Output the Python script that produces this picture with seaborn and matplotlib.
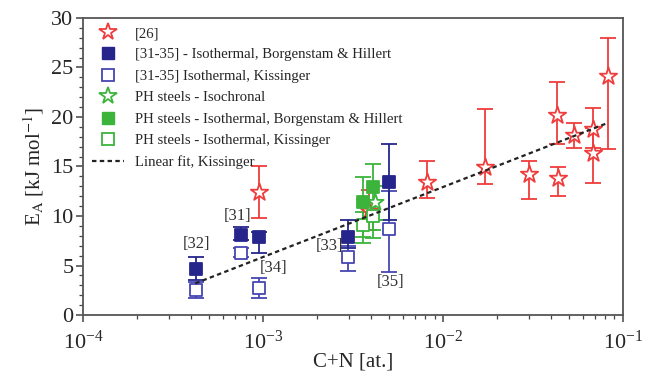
import numpy as np
import pandas as pd
import matplotlib
matplotlib.use('Agg')
import matplotlib.pyplot as plt
from matplotlib.lines import Line2D
from matplotlib.ticker import MultipleLocator, LogLocator, NullFormatter
import seaborn as sns

# [26]
ref26_x = [0.00095, 0.0039, 0.0082, 0.0171, 0.030, 0.0435, 0.043, 0.0535, 0.068, 0.068, 0.0826]
ref26_y = [12.4, 10.5, 13.4, 14.9, 14.2, 13.8, 20.2, 18.2, 18.8, 16.4, 24.1]
ref26_lo = [9.8, 8.6, 11.8, 13.2, 11.7, 12.0, 17.3, 16.9, 16.9, 13.3, 16.8]
ref26_hi = [15.0, 12.6, 15.6, 20.8, 15.6, 14.9, 23.5, 19.4, 20.9, 18.9, 28.0]

# [31-35] isothermal, Borgenstam & Hillert
bh_x = [0.000425, 0.000755, 0.00095, 0.00297, 0.00501]
bh_y = [4.7, 8.1, 7.9, 7.9, 13.4]
bh_lo = [3.5, 7.6, 6.3, 6.8, 9.6]
bh_hi = [5.9, 8.9, 8.4, 9.6, 17.3]

# [31-35] isothermal, Kissinger
ks_x = [0.000425, 0.000755, 0.00095, 0.00297, 0.00501]
ks_y = [2.5, 6.3, 2.7, 5.9, 8.7]
ks_lo = [1.7, 5.9, 1.7, 4.5, 4.3]
ks_hi = [3.3, 6.8, 3.7, 7.0, 12.5]

# PH steels
ph_iso_x = [0.0042]
ph_iso_y = [11.4]
ph_iso_lo = [9.6]
ph_iso_hi = [13.0]

ph_bh_x = [0.0036, 0.0041]
ph_bh_y = [11.4, 12.9]
ph_bh_lo = [7.3, 7.8]
ph_bh_hi = [13.9, 15.3]

ph_ks_x = [0.0036, 0.0041]
ph_ks_y = [9.1, 10.0]
ph_ks_lo = [7.9, 8.6]
ph_ks_hi = [10.4, 11.4]

# linear fit (Kissinger), end points
fit_x = [0.00042, 0.08]
fit_y = [3.2, 19.3]

ref_labels = ['[32]', '[31]', '[34]', '[33]', '[35]']
ref_label_x = [0.000425, 0.00072, 0.00115, 0.00235, 0.0051]
ref_label_y = [7.2, 10.0, 4.8, 7.0, 3.3]

sns.set_theme(style='ticks')
plt.rcParams['font.family'] = ['Liberation Serif', 'DejaVu Serif']
plt.rcParams['mathtext.fontset'] = 'stix'

RED = '#f03c3c'
NAVY = '#25258c'
BLUE = '#4646b4'
GREEN = '#3cb43c'

fig = plt.figure(figsize=(6.5, 3.81), dpi=100)
ax = fig.add_axes([0.128, 0.173, 0.830, 0.780])


def draw(x, y, lo, hi, color, marker, filled, size):
    err = [np.array(y) - np.array(lo), np.array(hi) - np.array(y)]
    ax.errorbar(x, y, yerr=err, fmt='none', ecolor=color, elinewidth=1.3,
                capsize=6, capthick=1.3, zorder=2)
    df = pd.DataFrame({'x': x, 'y': y})
    sns.scatterplot(data=df, x='x', y='y', ax=ax, marker=marker, s=size,
                    facecolor=color if filled else 'white', edgecolor=color,
                    linewidth=1.3, zorder=3, legend=False)


sns.lineplot(x=fit_x, y=fit_y, ax=ax, color='#222222', linestyle=(0, (2, 1.5)),
             linewidth=1.6, zorder=4)
draw(ref26_x, ref26_y, ref26_lo, ref26_hi, RED, '*', False, 170)
draw(ks_x, ks_y, ks_lo, ks_hi, BLUE, 's', False, 80)
draw(bh_x, bh_y, bh_lo, bh_hi, NAVY, 's', True, 80)
draw(ph_ks_x, ph_ks_y, ph_ks_lo, ph_ks_hi, GREEN, 's', False, 80)
draw(ph_iso_x, ph_iso_y, ph_iso_lo, ph_iso_hi, GREEN, '*', False, 150)
draw(ph_bh_x, ph_bh_y, ph_bh_lo, ph_bh_hi, GREEN, 's', True, 80)

for t, lx, ly in zip(ref_labels, ref_label_x, ref_label_y):
    ax.text(lx, ly, t, fontsize=12, color='#333333', ha='center', va='center')

ax.set_xscale('log')
ax.set_xlim(1e-4, 1e-1)
ax.set_ylim(0, 30)
ax.yaxis.set_major_locator(MultipleLocator(5))
ax.yaxis.set_minor_locator(MultipleLocator(1))
ax.xaxis.set_minor_locator(LogLocator(base=10, subs=np.arange(2, 10)))
ax.xaxis.set_minor_formatter(NullFormatter())
ax.tick_params(axis='both', which='major', labelsize=16, length=5, width=1.1,
               color='#444444', pad=2)
ax.tick_params(axis='x', which='major', pad=6)
ax.tick_params(axis='both', which='minor', length=3, width=0.9, color='#444444')
for sp in ax.spines.values():
    sp.set_color('#555555')
    sp.set_linewidth(1.3)

ax.set_xlabel('C+N [at.]', fontsize=15, labelpad=-1)
ax.set_ylabel(r'E$_\mathrm{A}$ [kJ mol$^{-1}$]', fontsize=15, labelpad=4)

handles = [
    Line2D([], [], marker='*', color=RED, markerfacecolor='white', markersize=13, linestyle='none', markeredgewidth=1.3),
    Line2D([], [], marker='s', color=NAVY, markerfacecolor=NAVY, markersize=8, linestyle='none'),
    Line2D([], [], marker='s', color=BLUE, markerfacecolor='white', markersize=8, linestyle='none', markeredgewidth=1.3),
    Line2D([], [], marker='*', color=GREEN, markerfacecolor='white', markersize=13, linestyle='none', markeredgewidth=1.3),
    Line2D([], [], marker='s', color=GREEN, markerfacecolor=GREEN, markersize=8, linestyle='none'),
    Line2D([], [], marker='s', color=GREEN, markerfacecolor='white', markersize=8, linestyle='none', markeredgewidth=1.3),
    Line2D([], [], color='#222222', linestyle=(0, (2, 1.5)), linewidth=1.6),
]
labels = ['[26]', '[31-35] - Isothermal, Borgenstam & Hillert', '[31-35] Isothermal, Kissinger',
          'PH steels - Isochronal', 'PH steels - Isothermal, Borgenstam & Hillert',
          'PH steels - Isothermal, Kissinger', 'Linear fit, Kissinger']
ax.legend(handles, labels, loc='upper left', frameon=False, fontsize=10.6,
          handlelength=2.2, handletextpad=0.7, labelspacing=0.55,
          borderaxespad=0.2, bbox_to_anchor=(0.0, 1.0))

fig.savefig('out.png', dpi=100)
